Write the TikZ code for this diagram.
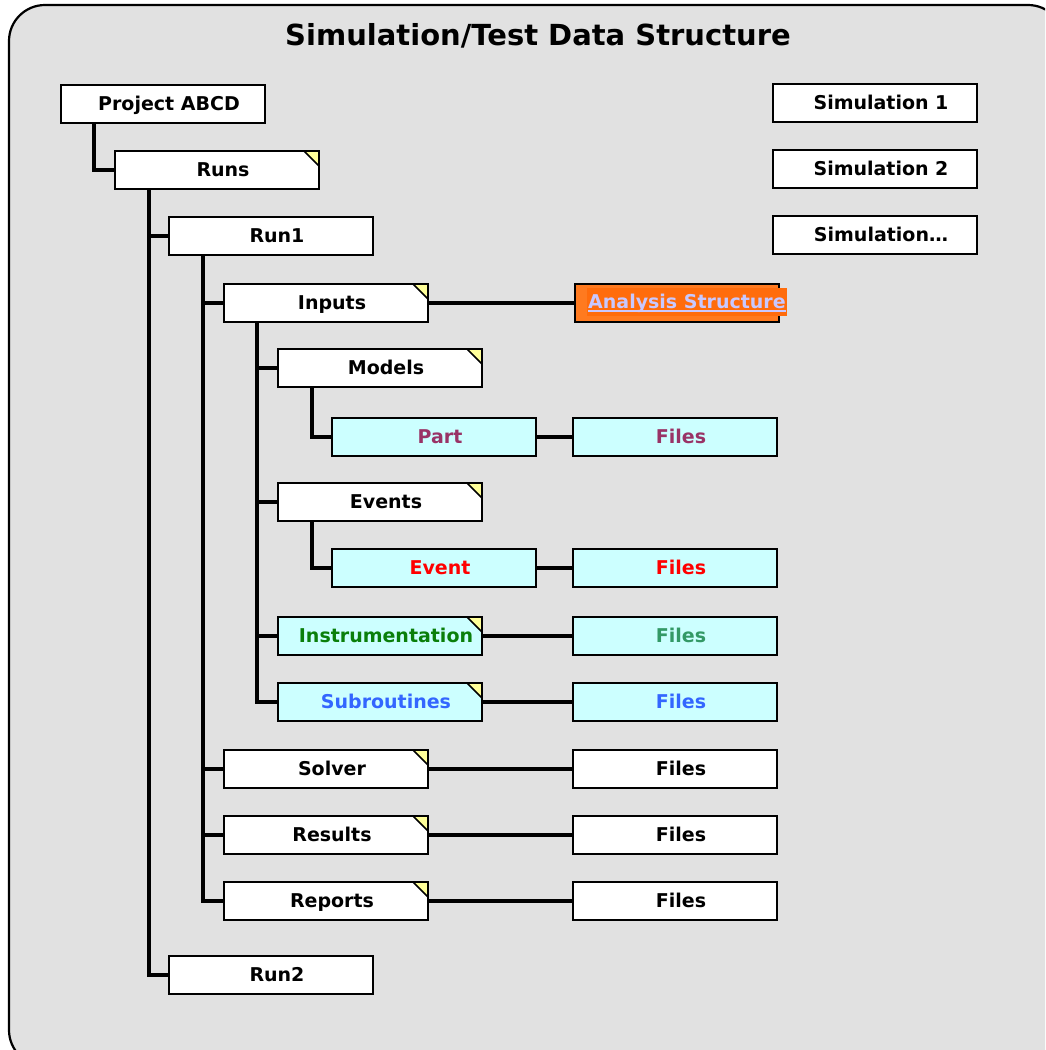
\documentclass[tikz,border=0pt]{standalone}
\usepackage{fontspec}
\setmainfont{DejaVu Sans}
\definecolor{panel}{HTML}{E1E1E1}
\definecolor{cyanfill}{HTML}{CCFFFF}
\definecolor{notefill}{HTML}{FFFF99}
\definecolor{partcol}{HTML}{993366}
\definecolor{eventcol}{HTML}{FF0000}
\definecolor{instrcol}{HTML}{0A7F0A}
\definecolor{instrfcol}{HTML}{339966}
\definecolor{subrcol}{HTML}{3366FF}
\definecolor{linkbox}{HTML}{FF7A1F}
\definecolor{linkhl}{HTML}{FF6C0C}
\definecolor{linktext}{HTML}{C8C8FF}
\begin{document}
\begin{tikzpicture}[x=1pt,y=-1pt,
  box/.style={draw=black, line width=2pt, fill=white, minimum width=204pt,
    minimum height=38pt, inner sep=0pt, text height=15pt, text depth=3pt,
    font=\fontsize{19}{22}\selectfont\bfseries,
    execute at begin node={\hspace*{12pt}}},
  cyanbox/.style={box, fill=cyanfill},
  folded/.style={path picture={
    \fill[notefill] ([xshift=-15pt]path picture bounding box.north east)
      -- (path picture bounding box.north east)
      -- ([yshift=-15pt]path picture bounding box.north east) -- cycle;
    \draw[line width=1.6pt] ([xshift=-15pt]path picture bounding box.north east)
      -- ([yshift=-15pt]path picture bounding box.north east);}},
  conn/.style={line width=4.5pt, draw=black}]

\useasboundingbox (0,0) rectangle (1045,1050);
\clip (0,0) rectangle (1045,1050);

% panel
\draw[line width=2.2pt, fill=panel, rounded corners=36pt] (9,5) rectangle (1064,1066);

% title
\node[font=\fontsize{29}{34}\selectfont\bfseries] (title) at (538,36) {Simulation/Test Data Structure};

% hierarchy boxes
\node[box] (proj) at (163,104) {Project ABCD};
\node[box, folded] (runs) at (217,170) {Runs};
\node[box] (run1) at (271,236) {Run1};
\node[box, folded] (inputs) at (326,303) {Inputs};
\node[box, folded] (models) at (380,368) {Models};
\node[cyanbox, text=partcol] (part) at (434,437) {Part};
\node[cyanbox, text=partcol] (partf) at (675,437) {Files};
\node[box, folded] (events) at (380,502) {Events};
\node[cyanbox, text=eventcol] (event) at (434,568) {Event};
\node[cyanbox, text=eventcol] (eventf) at (675,568) {Files};
\node[cyanbox, folded, text=instrcol] (instr) at (380,636) {Instrumentation};
\node[cyanbox, text=instrfcol] (instrf) at (675,636) {Files};
\node[cyanbox, folded, text=subrcol] (subr) at (380,702) {Subroutines};
\node[cyanbox, text=subrcol] (subrf) at (675,702) {Files};
\node[box, folded] (solver) at (326,769) {Solver};
\node[box] (solverf) at (675,769) {Files};
\node[box, folded] (results) at (326,835) {Results};
\node[box] (resultsf) at (675,835) {Files};
\node[box, folded] (reports) at (326,901) {Reports};
\node[box] (reportsf) at (675,901) {Files};
\node[box] (run2) at (271,975) {Run2};

% simulations
\node[box] (sim1) at (875,103) {Simulation 1};
\node[box] (sim2) at (875,169) {Simulation 2};
\node[box] (sim3) at (875,235) {Simulation…};

% linked analysis structure
\node[box, fill=linkbox, execute at begin node={}] (analysis) at (677,303) {};
\node[anchor=west, fill=linkhl, inner xsep=1pt, inner ysep=5pt, text=linktext,
  text height=15pt, text depth=3pt,
  font=\fontsize{19}{22}\selectfont\bfseries] (antext) at (587,302) {Analysis Structure};
\draw[linktext, line width=1.3pt] ([xshift=1pt,yshift=-3pt]antext.base west) -- ([xshift=-1pt,yshift=-3pt]antext.base east);

% tree connectors
\draw[conn] ([xshift=34pt]proj.south west) |- (runs.west);
\draw[conn] ([xshift=35pt]runs.south west) |- (run1.west);
\draw[conn] ([xshift=35pt]runs.south west) |- (run2.west);
\draw[conn] ([xshift=35pt]run1.south west) |- (inputs.west);
\draw[conn] ([xshift=35pt]run1.south west) |- (solver.west);
\draw[conn] ([xshift=35pt]run1.south west) |- (results.west);
\draw[conn] ([xshift=35pt]run1.south west) |- (reports.west);
\draw[conn] ([xshift=34pt]inputs.south west) |- (models.west);
\draw[conn] ([xshift=34pt]inputs.south west) |- (events.west);
\draw[conn] ([xshift=34pt]inputs.south west) |- (instr.west);
\draw[conn] ([xshift=34pt]inputs.south west) |- (subr.west);
\draw[conn] ([xshift=35pt]models.south west) |- (part.west);
\draw[conn] ([xshift=35pt]events.south west) |- (event.west);

% side links
\draw[conn] (inputs.east) -- (analysis.west);
\draw[conn] (part.east) -- (partf.west);
\draw[conn] (event.east) -- (eventf.west);
\draw[conn] (instr.east) -- (instrf.west);
\draw[conn] (subr.east) -- (subrf.west);
\draw[conn] (solver.east) -- (solverf.west);
\draw[conn] (results.east) -- (resultsf.west);
\draw[conn] (reports.east) -- (reportsf.west);
\end{tikzpicture}
\end{document}
